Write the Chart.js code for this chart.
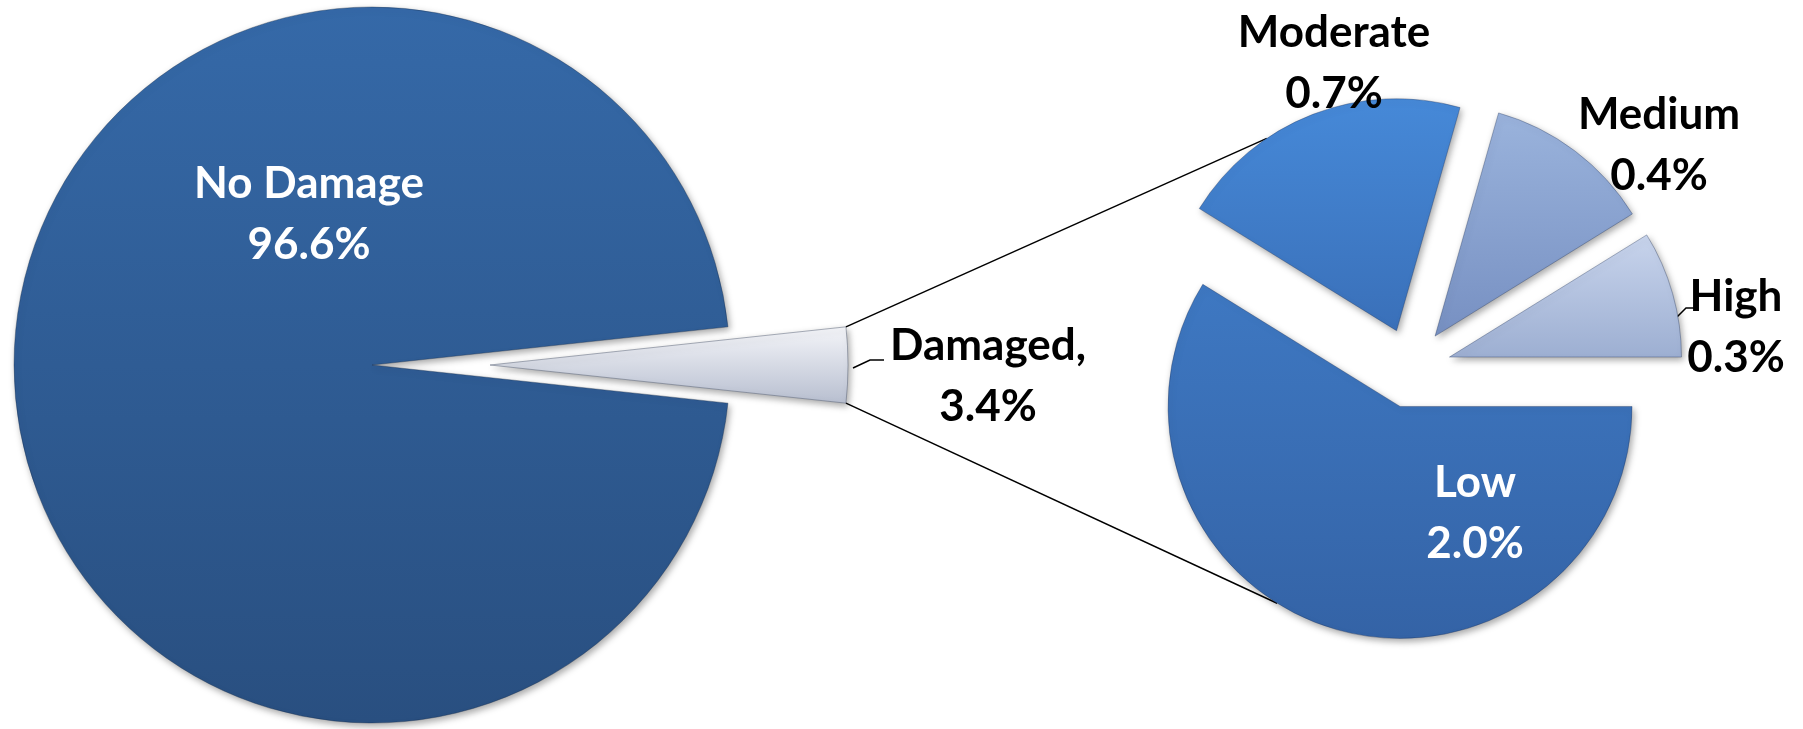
<!DOCTYPE html>
<html>
<head>
<meta charset="utf-8">
<script src="https://cdn.jsdelivr.net/npm/chart.js@4.4.1/dist/chart.umd.min.js"></script>
<style>
  html, body { margin: 0; padding: 0; background: #fff; }
  #wrap { position: relative; width: 1803px; height: 729px; }
  #wrap canvas { position: absolute; left: 0; top: 0; }
</style>
</head>
<body>
<div id="wrap">
  <canvas id="mainPie" width="1803" height="729"></canvas>
  <canvas id="subPie" width="1803" height="729"></canvas>
</div>
<script>
// data
const mainLabels = ['No Damage', 'Damaged'];
const mainValues = [96.6, 3.4];
const subLabels = ['Low', 'Moderate', 'Medium', 'High'];
const subValues = [2.0, 0.7, 0.4, 0.3];

// looks
const FONT = 'bold 44px Lato, "Open Sans", sans-serif';
const mainColors = [['#3569a8', '#294f80'], ['#f4f5f9', '#b8bfd0']];
const subColors = [['#3e78c2', '#3463a6'], ['#4689d8', '#3a70b9'], ['#9ab3dc', '#7790c2'], ['#c8d4ec', '#9dafd2']];
const mainExplode = [0, 118];
const subExplode = [40, 40, 40, 40];

// where the text sits (centre of each line)
const mainText = [
  { lines: ['No Damage', '96.6%'], x: 309, y: 184, color: '#fff' },
  { lines: ['Damaged,', '3.4%'], x: 988, y: 346, color: '#000' }
];
const subText = [
  { lines: ['Low', '2.0%'], x: 1475, y: 483, color: '#fff' },
  { lines: ['Moderate', '0.7%'], x: 1334, y: 33, color: '#000' },
  { lines: ['Medium', '0.4%'], x: 1659, y: 115, color: '#000' },
  { lines: ['High', '0.3%'], x: 1736, y: 297, color: '#000' }
];
const LINE_GAP = 61;

function sliceYRange(arc, dy) {
  // vertical extent of a slice, used for its gradient
  const pts = [arc.y];
  const n = 24;
  for (let k = 0; k <= n; k++) {
    const a = arc.startAngle + (arc.endAngle - arc.startAngle) * k / n;
    pts.push(arc.y + Math.sin(a) * arc.outerRadius);
  }
  return [Math.min(...pts) + dy, Math.max(...pts) + dy];
}

function explodedDraw(explode, colors) {
  return {
    id: 'explodedDraw',
    beforeDatasetDraw(chart, args) {
      const ctx = chart.ctx;
      args.meta.data.forEach((arc, i) => {
        const mid = (arc.startAngle + arc.endAngle) / 2;
        const dx = Math.cos(mid) * explode[i];
        const dy = Math.sin(mid) * explode[i];
        const [y0, y1] = sliceYRange(arc, 0);
        const grad = ctx.createLinearGradient(0, y0, 0, y1);
        grad.addColorStop(0, colors[i][0]);
        grad.addColorStop(1, colors[i][1]);
        const saved = arc.options;
        arc.options = Object.assign({}, saved, { backgroundColor: grad });
        ctx.save();
        ctx.shadowColor = 'rgba(0,0,0,0.35)';
        ctx.shadowBlur = 7;
        ctx.shadowOffsetX = 2;
        ctx.shadowOffsetY = 3;
        ctx.translate(dx, dy);
        arc.draw(ctx, chart.chartArea);
        ctx.restore();
        arc.options = saved;
      });
      return false;
    }
  };
}

function textPlugin(items) {
  return {
    id: 'sliceText',
    afterDraw(chart) {
      const ctx = chart.ctx;
      ctx.save();
      ctx.font = FONT;
      ctx.textAlign = 'center';
      ctx.textBaseline = 'middle';
      items.forEach(t => {
        ctx.fillStyle = t.color;
        t.lines.forEach((s, k) => ctx.fillText(s, t.x, t.y + k * LINE_GAP));
      });
      ctx.restore();
    }
  };
}

function leader(ctx, pts) {
  ctx.beginPath();
  ctx.moveTo(pts[0][0], pts[0][1]);
  for (let k = 1; k < pts.length; k++) ctx.lineTo(pts[k][0], pts[k][1]);
  ctx.stroke();
}

const mainChart = new Chart(document.getElementById('mainPie'), {
  type: 'pie',
  data: {
    labels: mainLabels,
    datasets: [{
      data: mainValues,
      backgroundColor: mainColors.map(c => c[0]),
      borderColor: ['rgba(20,40,70,0.35)', 'rgba(90,100,120,0.5)'],
      borderWidth: 1,
      radius: 358
    }]
  },
  options: {
    responsive: false,
    animation: false,
    rotation: 90 + mainValues[1] / (mainValues[0] + mainValues[1]) * 180,
    layout: { padding: { left: 0, right: 1059, top: 1, bottom: 0 } },
    plugins: { legend: { display: false }, tooltip: { enabled: false } }
  },
  plugins: [explodedDraw(mainExplode, mainColors), textPlugin(mainText), {
    id: 'damagedLeader',
    afterDraw(chart) {
      const ctx = chart.ctx;
      ctx.save();
      ctx.strokeStyle = '#000';
      ctx.lineWidth = 1.5;
      leader(ctx, [[853, 368], [870, 360], [884, 360]]);
      ctx.restore();
    }
  }]
});

const subChart = new Chart(document.getElementById('subPie'), {
  type: 'pie',
  data: {
    labels: subLabels,
    datasets: [{
      data: subValues,
      backgroundColor: subColors.map(c => c[0]),
      borderColor: 'rgba(30,50,90,0.35)',
      borderWidth: 1,
      radius: 232
    }]
  },
  options: {
    responsive: false,
    animation: false,
    rotation: 90,
    layout: { padding: { left: 1019, right: 0, top: 7, bottom: 0 } },
    plugins: { legend: { display: false }, tooltip: { enabled: false } }
  },
  plugins: [{
    id: 'connectors',
    beforeDatasetsDraw(chart) {
      // lines from the exploded "Damaged" slice to the second pie
      const d = mainChart.getDatasetMeta(0).data[1];
      const dm = (d.startAngle + d.endAngle) / 2;
      const ox = d.x + Math.cos(dm) * mainExplode[1];
      const oy = d.y + Math.sin(dm) * mainExplode[1];
      const arcs = chart.getDatasetMeta(0).data;
      const onArc = (i, deg) => {
        const a = arcs[i];
        const m = (a.startAngle + a.endAngle) / 2;
        const r = deg * Math.PI / 180;
        return [a.x + Math.cos(m) * subExplode[i] + Math.cos(r) * a.outerRadius,
                a.y + Math.sin(m) * subExplode[i] + Math.sin(r) * a.outerRadius];
      };
      const ctx = chart.ctx;
      ctx.save();
      ctx.strokeStyle = '#000';
      ctx.lineWidth = 1.5;
      leader(ctx, [[ox + Math.cos(d.startAngle) * d.outerRadius, oy + Math.sin(d.startAngle) * d.outerRadius], onArc(1, 236)]);
      leader(ctx, [[ox + Math.cos(d.endAngle) * d.outerRadius, oy + Math.sin(d.endAngle) * d.outerRadius], onArc(0, 122)]);
      leader(ctx, [[1676, 318], [1686, 308], [1697, 308]]);
      ctx.restore();
    }
  }, explodedDraw(subExplode, subColors), textPlugin(subText)]
});
</script>
</body>
</html>
